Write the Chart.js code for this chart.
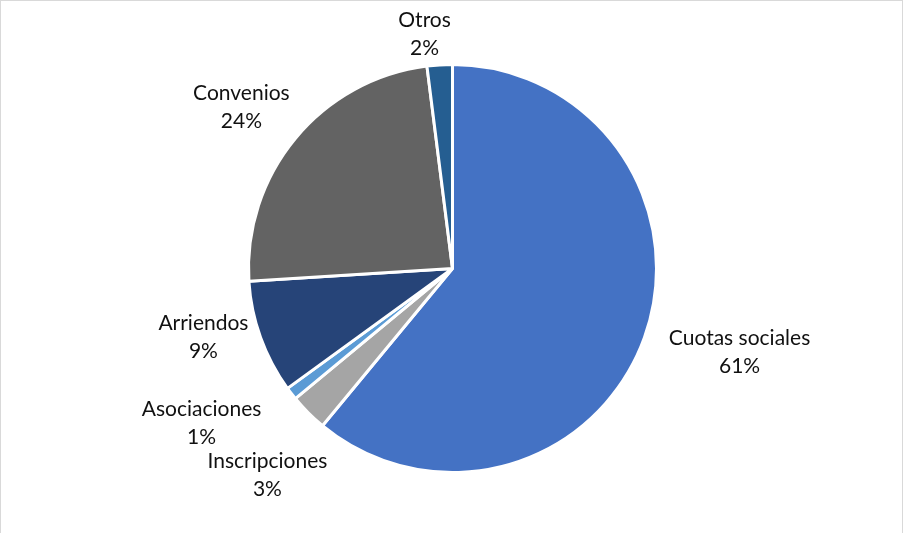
<!DOCTYPE html>
<html>
<head>
<meta charset="utf-8">
<script src="https://cdn.jsdelivr.net/npm/chart.js@4"></script>
<style>
  html, body { margin: 0; padding: 0; background: #fff; }
  #wrap { position: relative; width: 903px; height: 533px; box-sizing: border-box; border: 1px solid #d9d9d9; border-bottom: none; }
  canvas { display: block; }
</style>
</head>
<body>
<div id="wrap"><canvas id="chartjs" width="901" height="532"></canvas></div>
<script>
  let categorias = ['Cuotas sociales', 'Inscripciones', 'Asociaciones', 'Arriendos', 'Convenios', 'Otros'];
  let porcentajes = [61, 3, 1, 9, 24, 2];
  let colores = ['#4472C4', '#A5A5A5', '#5B9BD5', '#264478', '#636363', '#255E91'];

  // where each label sits: angle (deg, clockwise from top) and distance as a fraction of the radius
  let posEtiquetas = [
    [106.3, 1.466],
    [221.8, 1.361],
    [238.3, 1.446],
    [254.5, 1.267],
    [307.3, 1.301],
    [353.2, 1.155]
  ];

  const etiquetas = {
    id: 'etiquetas',
    afterDatasetsDraw(chart) {
      const ctx = chart.ctx;
      const meta = chart.getDatasetMeta(0);
      ctx.save();
      ctx.font = '21px Lato, "Open Sans", sans-serif';
      ctx.fillStyle = '#111111';
      ctx.textAlign = 'center';
      ctx.textBaseline = 'middle';
      meta.data.forEach(function (arc, i) {
        const p = arc.getProps(['x', 'y', 'outerRadius'], true);
        const a = posEtiquetas[i][0] * Math.PI / 180;
        const d = posEtiquetas[i][1] * p.outerRadius;
        const cx = p.x + Math.sin(a) * d;
        const cy = p.y - Math.cos(a) * d;
        ctx.fillText(categorias[i], cx, cy - 14);
        ctx.fillText(porcentajes[i] + '%', cx, cy + 14);
      });
      ctx.restore();
    }
  };

  const ctx = document.getElementById('chartjs');
  new Chart(ctx, {
    type: 'pie',
    data: {
      labels: categorias,
      datasets: [{
        data: porcentajes,
        backgroundColor: colores,
        borderColor: '#ffffff',
        borderWidth: 3
      }]
    },
    options: {
      responsive: false,
      animation: false,
      layout: { padding: { top: 62, bottom: 59, left: 246, right: 244 } },
      plugins: {
        legend: { display: false },
        tooltip: { enabled: false }
      }
    },
    plugins: [etiquetas]
  });
</script>
</body>
</html>
